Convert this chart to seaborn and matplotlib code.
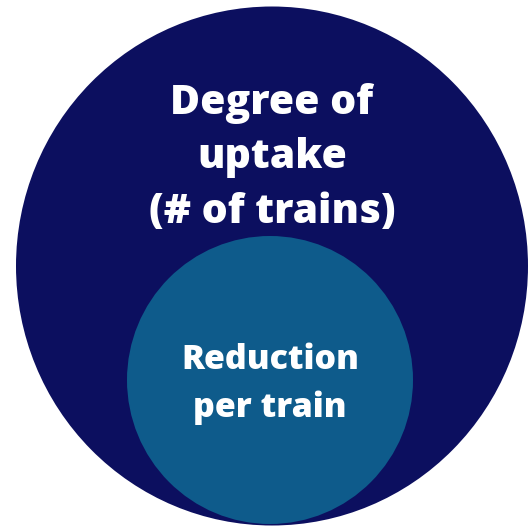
import matplotlib
matplotlib.use("Agg")
import matplotlib.pyplot as plt
import seaborn as sns
from matplotlib.patches import Ellipse

# nested circles: outer = uptake, inner = per-train reduction
labels = ["Degree of\nuptake\n(# of trains)", "Reduction\nper train"]
centers_x = [272, 270]
centers_y = [266, 380]
widths = [512, 286]
heights = [519, 288]
colors = ["#0c0f5f", "#0e5b8b"]
label_y = [158, 384]
font_sizes = [29.5, 24.5]
line_spacing = [1.45, 1.5]

sns.set_theme(style="white")
plt.rcParams['font.family'] = ['Open Sans', 'DejaVu Sans']

fig = plt.figure(figsize=(5.29, 5.27), dpi=100)
ax = fig.add_axes([0, 0, 1, 1])
ax.set_xlim(0, 529)
ax.set_ylim(527, 0)
ax.set_aspect('equal')
ax.axis('off')

for cx, cy, w, h, c in zip(centers_x, centers_y, widths, heights, colors):
    ax.add_patch(Ellipse((cx, cy), w, h, facecolor=c, edgecolor='none'))

for lab, cx, ly, fs, ls in zip(labels, centers_x, label_y, font_sizes, line_spacing):
    ax.text(cx, ly, lab, ha='center', va='center', color='white',
            fontsize=fs, fontweight='heavy', linespacing=ls)

fig.savefig("out.png", dpi=100, facecolor='white')
